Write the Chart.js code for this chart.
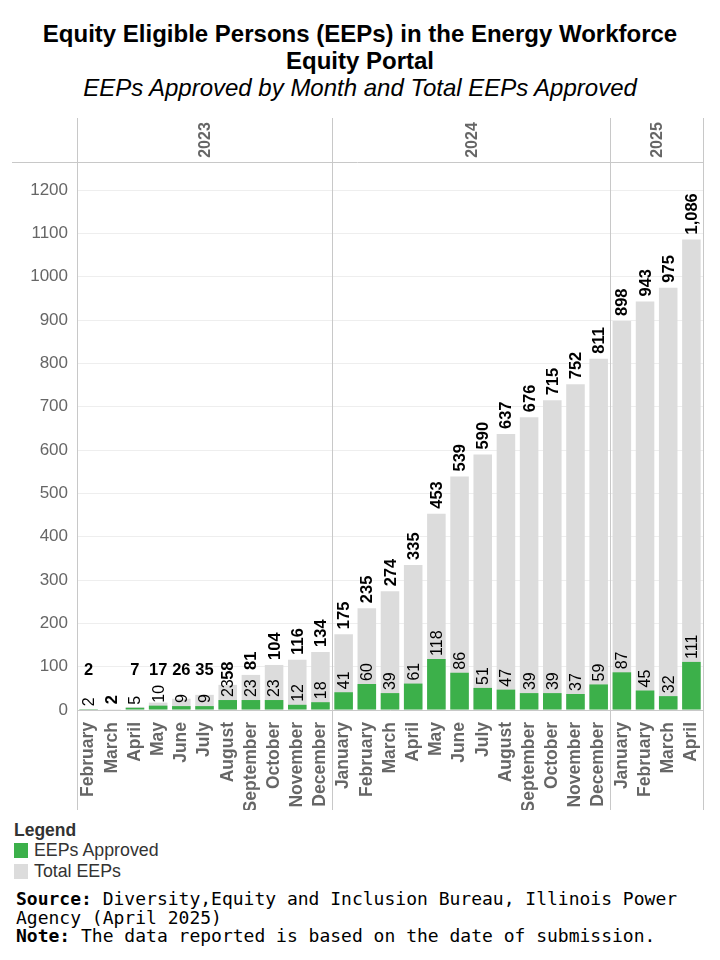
<!DOCTYPE html>
<html>
<head>
<meta charset="utf-8">
<script src="https://cdn.jsdelivr.net/npm/chart.js@4.4.1/dist/chart.umd.min.js"></script>
<style>
  body { margin: 0; background: #fff; font-family: "Liberation Sans", Arial, sans-serif; }
  #page { position: relative; width: 720px; height: 960px; overflow: hidden; }
  .title { position: absolute; left: 0; width: 720px; text-align: center; color: #000; font-size: 24px; }
  #chart-wrap { position: absolute; left: 0; top: 118px; width: 720px; height: 692px; }
  #legend { position: absolute; left: 14px; top: 820px; color: #333; }
  #legend .head { font-weight: bold; font-size: 17.5px; line-height: 20px; }
  #legend .item { font-size: 17.8px; line-height: 21px; display: flex; align-items: center; }
  #legend .sw { width: 14px; height: 15px; margin-right: 6px; }
  #notes { position: absolute; left: 16px; top: 890px; font-family: "DejaVu Sans Mono", "Liberation Mono", monospace;
           font-size: 18px; line-height: 18.5px; color: #000; white-space: pre; }
</style>
</head>
<body>
<div id="page">
  <div class="title" style="top:20px;font-weight:bold;">Equity Eligible Persons (EEPs) in the Energy Workforce</div>
  <div class="title" style="top:47px;font-weight:bold;">Equity Portal</div>
  <div class="title" style="top:74px;font-style:italic;">EEPs Approved by Month and Total EEPs Approved</div>
  <div id="chart-wrap"><canvas id="chart-eeps"></canvas></div>
  <div id="legend">
    <div class="head">Legend</div>
    <div class="item"><span class="sw" style="background:#3cb04a"></span>EEPs Approved</div>
    <div class="item"><span class="sw" style="background:#dcdcdc"></span>Total EEPs</div>
  </div>
  <div id="notes"><b>Source:</b> Diversity,Equity and Inclusion Bureau, Illinois Power
Agency (April 2025)
<b>Note:</b> The data reported is based on the date of submission.</div>
</div>

<script>
// Dados
const months = [
  "February", "March", "April", "May", "June", "July", "August", "September", "October", "November", "December",
  "January", "February", "March", "April", "May", "June", "July", "August", "September", "October", "November", "December",
  "January", "February", "March", "April"
];
const monthYears = [
  "2023", "2023", "2023", "2023", "2023", "2023", "2023", "2023", "2023", "2023", "2023",
  "2024", "2024", "2024", "2024", "2024", "2024", "2024", "2024", "2024", "2024", "2024", "2024",
  "2025", "2025", "2025", "2025"
];
const approved = [2, 0, 5, 10, 9, 9, 23, 23, 23, 12, 18,
  41, 60, 39, 61, 118, 86, 51, 47, 39, 39, 37, 59,
  87, 45, 32, 111];
const totalEeps = [2, 2, 7, 17, 26, 35, 58, 81, 104, 116, 134,
  175, 235, 274, 335, 453, 539, 590, 637, 676, 715, 752, 811,
  898, 943, 975, 1086];
// rótulos de total que aparecem na horizontal no original
const flatTotalIdx = [0, 2, 3, 4, 5];

const COLORS = {
  green: "#3cb04a",
  gray: "#dcdcdc",
  line: "#c8c8c8",
  text: "#666666"
};

const FONT = "'Liberation Sans', Arial, sans-serif";

/** Cabeçalho dos anos + divisórias verticais entre os grupos. */
const yearHeaderPlugin = {
  id: "yearHeader",
  afterDraw(chart) {
    const { ctx, chartArea, scales } = chart;
    const x = scales.x;
    const half = (x.getPixelForValue(1) - x.getPixelForValue(0)) / 2;
    const bottom = x.bottom;

    ctx.save();
    ctx.strokeStyle = COLORS.line;
    ctx.lineWidth = 1;

    // linha horizontal abaixo do cabeçalho
    ctx.beginPath();
    ctx.moveTo(12, chartArea.top + 0.5);
    ctx.lineTo(chartArea.right, chartArea.top + 0.5);
    ctx.stroke();

    // grupos de anos
    const groups = [];
    monthYears.forEach((yr, i) => {
      const last = groups[groups.length - 1];
      if (last && last.year === yr) last.end = i;
      else groups.push({ year: yr, start: i, end: i });
    });

    const edges = [chartArea.left];
    groups.forEach((g) => edges.push(x.getPixelForValue(g.end) + half));
    edges.forEach((ex) => {
      const px = Math.round(ex) + 0.5;
      ctx.beginPath();
      ctx.moveTo(px, 0);
      ctx.lineTo(px, bottom);
      ctx.stroke();
    });

    ctx.fillStyle = COLORS.text;
    ctx.font = "bold 16px " + FONT;
    ctx.textAlign = "center";
    ctx.textBaseline = "middle";
    groups.forEach((g) => {
      const cx = (x.getPixelForValue(g.start) + x.getPixelForValue(g.end)) / 2;
      ctx.save();
      ctx.translate(cx + 1, chartArea.top / 2);
      ctx.rotate(-Math.PI / 2);
      ctx.fillText(g.year, 0, 0);
      ctx.restore();
    });
    ctx.restore();
  }
};

/** Rótulos de valor: aprovados (normal) e total (negrito). */
const valueLabelPlugin = {
  id: "valueLabels",
  afterDatasetsDraw(chart) {
    const { ctx, scales } = chart;
    const x = scales.x;
    const y = scales.y;
    const base = y.getPixelForValue(0);

    ctx.save();
    ctx.fillStyle = "#000";
    ctx.textBaseline = "middle";

    months.forEach((_, i) => {
      const cx = x.getPixelForValue(i);

      if (approved[i] > 0) {
        ctx.font = "16px " + FONT;
        const start = y.getPixelForValue(approved[i]) - 3;
        ctx.save();
        ctx.translate(cx + 1, start);
        ctx.rotate(-Math.PI / 2);
        ctx.textAlign = "left";
        ctx.fillText(String(approved[i]), 0, 0);
        ctx.restore();
      }

      ctx.font = "bold 16.5px " + FONT;
      const totalTxt = totalEeps[i].toLocaleString("en-US");
      if (flatTotalIdx.includes(i)) {
        ctx.textAlign = "center";
        ctx.fillText(totalTxt, cx, base - 40);
      } else {
        const start = y.getPixelForValue(totalEeps[i]) - 5;
        ctx.save();
        ctx.translate(cx + 1, start);
        ctx.rotate(-Math.PI / 2);
        ctx.textAlign = "left";
        ctx.fillText(totalTxt, 0, 0);
        ctx.restore();
      }
    });
    ctx.restore();
  }
};

const ctxEeps = document.getElementById("chart-eeps").getContext("2d");

new Chart(ctxEeps, {
  type: "bar",
  data: {
    labels: months,
    datasets: [
      {
        label: "EEPs Approved",
        data: approved,
        backgroundColor: COLORS.green,
        grouped: false,
        order: 0,
        barPercentage: 0.8,
        categoryPercentage: 1
      },
      {
        label: "Total EEPs",
        data: totalEeps,
        backgroundColor: COLORS.gray,
        grouped: false,
        order: 1,
        barPercentage: 0.8,
        categoryPercentage: 1
      }
    ]
  },
  options: {
    responsive: true,
    maintainAspectRatio: false,
    animation: false,
    layout: {
      padding: { left: 12, right: 17, top: 44, bottom: 0 }
    },
    plugins: {
      legend: { display: false },
      tooltip: { enabled: false }
    },
    scales: {
      x: {
        grid: { display: false },
        border: { color: COLORS.line },
        afterFit: (scale) => {
          scale.height = 100;
        },
        ticks: {
          autoSkip: false,
          minRotation: 90,
          maxRotation: 90,
          padding: 4,
          color: COLORS.text,
          font: { family: FONT, size: 17.5, weight: "bold" }
        }
      },
      y: {
        min: 0,
        max: 1265,
        grid: { color: "#eeeeee", drawTicks: false },
        border: { display: false },
        afterFit: (scale) => {
          scale.width = 65;
        },
        afterBuildTicks: (scale) => {
          scale.ticks = scale.ticks.filter((t) => t.value % 100 === 0);
        },
        ticks: {
          stepSize: 100,
          padding: 9,
          color: COLORS.text,
          font: { family: FONT, size: 17 },
          callback: (value) => String(value)
        }
      }
    }
  },
  plugins: [yearHeaderPlugin, valueLabelPlugin]
});
</script>
</body>
</html>
